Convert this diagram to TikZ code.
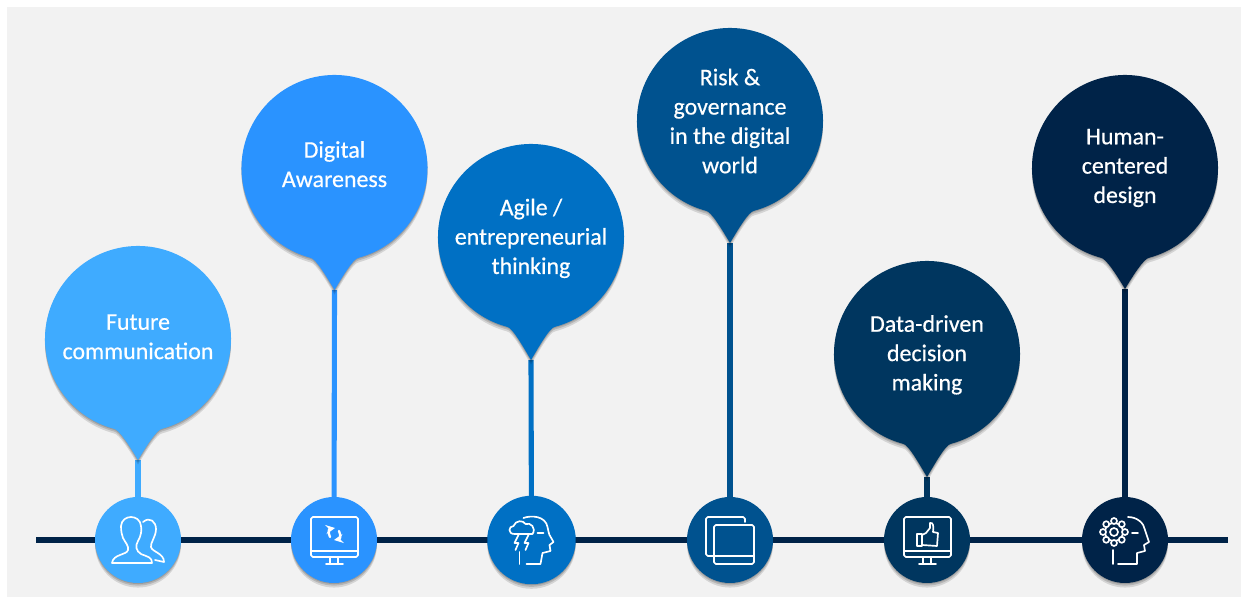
\documentclass[tikz,border=0pt]{standalone}
\usepackage{fontspec}
\setmainfont{Carlito}[RawFeature={embolden=0.5}]
\usetikzlibrary{shadows,backgrounds}
\definecolor{toneA}{HTML}{3FABFF}
\definecolor{toneB}{HTML}{2A93FF}
\definecolor{toneC}{HTML}{0070C4}
\definecolor{toneD}{HTML}{00528F}
\definecolor{toneE}{HTML}{00365F}
\definecolor{toneF}{HTML}{002348}
\definecolor{paper}{HTML}{F2F2F2}
\newcommand{\roombelow}[1]{\rule[-#1]{0pt}{0pt}}
\newcommand{\roomabove}[1]{\rule{0pt}{#1}}
\tikzset{
  softshadow/.style={
    drop shadow={shadow xshift=0pt,shadow yshift=-0.6pt,opacity=.14,fill=black},
    drop shadow={shadow xshift=0pt,shadow yshift=-1.5pt,opacity=.14,fill=black},
    drop shadow={shadow xshift=0pt,shadow yshift=-2.6pt,opacity=.12,fill=black}},
  bubble/.style={circle,minimum size=3.72cm,inner sep=0pt,outer sep=0pt,text=white,
    align=center,font=\fontsize{13.6}{16.7}\selectfont},
  marker/.style={circle,minimum size=1.72cm,inner sep=0pt,outer sep=0pt,softshadow},
  stem/.style={line width=2.9pt},
  tailin/.style={out=-8,in=121,out looseness=.35,in looseness=1},
  tailout/.style={out=59,in=188,out looseness=1,in looseness=.35},
  icon/.style={draw=white,line width=0.95pt,line join=round,line cap=round},
  pics/monitor/.style={code={
    \draw[icon,rounded corners=1pt] (-23,23) rectangle (24,-17);
    \draw[icon] (-23,-11) -- (24,-11);
    \draw[icon] (-4,-17) -- (-4,-23);
    \draw[icon] (4,-17) -- (4,-23);
    \draw[icon] (-8,-24) -- (9,-24);
  }},
}
\begin{document}
\begin{tikzpicture}[x=0.02cm,y=0.02cm]
  \useasboundingbox (0,0) rectangle (1248,599);
  \node[bubble] (bub1) at (138,260) {Future\\communication\roombelow{2.6pt}};
  \node[bubble] (bub2) at (334.5,431) {Digital\\Awareness\roombelow{4.5pt}};
  \node[bubble] (bub3) at (531,362) {\roomabove{11pt}Agile /\\entrepreneurial\\thinking};
  \node[bubble] (bub4) at (730,478) {Risk \&\\governance\\in the digital\\world};
  \node[bubble] (bub5) at (927,245) {\roomabove{10.4pt}Data-driven\\decision\\making};
  \node[bubble] (bub6) at (1125,431) {Human-\\centered\\design};
  \coordinate (tip1) at (138,139);
  \coordinate (tip2) at (334.5,309);
  \coordinate (tip3) at (531,239);
  \coordinate (tip4) at (730,356);
  \coordinate (tip5) at (927,122);
  \coordinate (tip6) at (1125,310);
  \coordinate (lineL) at (36,59);
  \coordinate (lineR) at (1228,59);
  \node[marker,fill=toneA] (mark1) at (138,59) {};
  \node[marker,fill=toneB] (mark2) at (334,59) {};
  \node[marker,fill=toneC,minimum size=1.77cm] (mark3) at (531.5,59) {};
  \node[marker,fill=toneD] (mark4) at (730,59) {};
  \node[marker,fill=toneE] (mark5) at (927,59) {};
  \node[marker,fill=toneF] (mark6) at (1125,59) {};
  \begin{scope}[on background layer]
    \fill[paper] (7,2) rectangle (1241,592);
    \draw[stem,draw=toneF] (lineL) -- (lineR);
    \draw[stem,draw=toneA] (tip1) -- (mark1);
    \draw[stem,draw=toneB] (tip2) -- (mark2);
    \draw[stem,draw=toneC] (tip3) -- (mark3);
    \draw[stem,draw=toneD] (tip4) -- (mark4);
    \draw[stem,draw=toneE] (tip5) -- (mark5);
    \draw[stem,draw=toneF] (tip6) -- (mark6);
    \fill[softshadow,fill=toneA] (bub1.255) to[tailin] (tip1) to[tailout] (bub1.285) arc[start angle=-75,end angle=255,radius=93];
    \fill[softshadow,fill=toneB] (bub2.255) to[tailin] (tip2) to[tailout] (bub2.285) arc[start angle=-75,end angle=255,radius=93];
    \fill[softshadow,fill=toneC] (bub3.255) to[tailin] (tip3) to[tailout] (bub3.285) arc[start angle=-75,end angle=255,radius=93];
    \fill[softshadow,fill=toneD] (bub4.255) to[tailin] (tip4) to[tailout] (bub4.285) arc[start angle=-75,end angle=255,radius=93];
    \fill[softshadow,fill=toneE] (bub5.255) to[tailin] (tip5) to[tailout] (bub5.285) arc[start angle=-75,end angle=255,radius=93];
    \fill[softshadow,fill=toneF] (bub6.255) to[tailin] (tip6) to[tailout] (bub6.285) arc[start angle=-75,end angle=255,radius=93];
  \end{scope}
  % people
  \begin{scope}[shift={(mark1.center)}]
    \draw[icon] (-26,-23) -- (14,-23) .. controls (14,-17) and (10,-17) .. (3,-14)
      .. controls (-2,-11) and (-3,-6) .. (0,-1) .. controls (3,4) and (4,10) .. (3,14)
      .. controls (2,26) and (-16,26) .. (-17,14) .. controls (-17,8) and (-16,5) .. (-15,2)
      .. controls (-13,-2) and (-9,-6) .. (-10,-10) .. controls (-11,-15) and (-25,-14) .. cycle;
    \draw[icon] (5,18) .. controls (12,24) and (18,18) .. (18,11) .. controls (18,3) and (12,-3) .. (13,-7)
      .. controls (14,-12) and (26,-13) .. (26,-22) -- (17,-20);
  \end{scope}
  % monitor with refresh arrows
  \begin{scope}[shift={(mark2.center)}]
    \pic {monitor};
    \draw[icon,line width=1.3pt,->,>=stealth] (-4,3) .. controls (-6,7) and (-5,11) .. (1,12);
    \draw[icon,line width=1.3pt,->,>=stealth] (5,9) .. controls (7,5) and (6,1) .. (0,0);
  \end{scope}
  % head with storm cloud
  \begin{scope}[shift={(mark3.center)}]
    \draw[icon] (-8,22) .. controls (0,25) and (14,24) .. (16,13) .. controls (17,9) and (17,7) .. (18,5)
      -- (22,-2) -- (18,-5) -- (19,-11) -- (11,-13) -- (9,-24) -- (-5,-24);
    \draw[icon] (-12,-12) -- (-12,-24);
    \draw[icon] (6,7) -- (12,7);
    \draw[icon,fill=toneC] (-17,6) .. controls (-24,6) and (-23,14) .. (-18,14)
      .. controls (-16,20) and (-8,20) .. (-6,16) .. controls (-1,18) and (5,12) .. (1,6) -- cycle;
    \draw[icon] (-13,5) -- (-17,-3) -- (-13,-3) -- (-16,-10);
    \draw[icon] (-3,5) -- (-7,-3) -- (-3,-3) -- (-6,-10);
  \end{scope}
  % stacked sheets
  \begin{scope}[shift={(mark4.center)}]
    \draw[icon,rounded corners=1pt] (15,18) -- (15,23) -- (-24,23) -- (-24,-16) -- (-17,-16);
    \draw[icon,rounded corners=1pt] (-16,15) rectangle (24,-24);
    \draw[icon] (-16,-16) -- (24,-16);
  \end{scope}
  % monitor with thumb
  \begin{scope}[shift={(mark5.center)}]
    \pic {monitor};
    \draw[icon] (-10,6) -- (-5,6) -- (-5,-6) -- (-10,-6) -- cycle;
    \draw[icon] (-5,5) -- (-1,7) -- (3,12) -- (3,17) .. controls (6,18) and (7,14) .. (6,8)
      -- (11,7) -- (10,-6) -- (-5,-5);
  \end{scope}
  % head with cog
  \begin{scope}[shift={(mark6.center)}]
    \draw[icon] (3,23) .. controls (12,23) and (19,17) .. (20,10) -- (24,-2) -- (19,-5) -- (20,-11)
      -- (12,-13) -- (12,-24) -- (-7,-24);
    \draw[icon] (-12,-10) -- (-12,-24);
    \draw[icon] (7,7) -- (13,7);
    \draw[icon,fill=toneF] (-11,8) circle (9);
    \draw[icon,fill=toneF]
      (-11,8) ++(0:11) circle (3)
      (-11,8) ++(45:11) circle (3)
      (-11,8) ++(90:11) circle (3)
      (-11,8) ++(135:11) circle (3)
      (-11,8) ++(180:11) circle (3)
      (-11,8) ++(225:11) circle (3)
      (-11,8) ++(270:11) circle (3)
      (-11,8) ++(315:11) circle (3);
    \draw[icon] (-11,8) circle (4);
  \end{scope}
\end{tikzpicture}
\end{document}
